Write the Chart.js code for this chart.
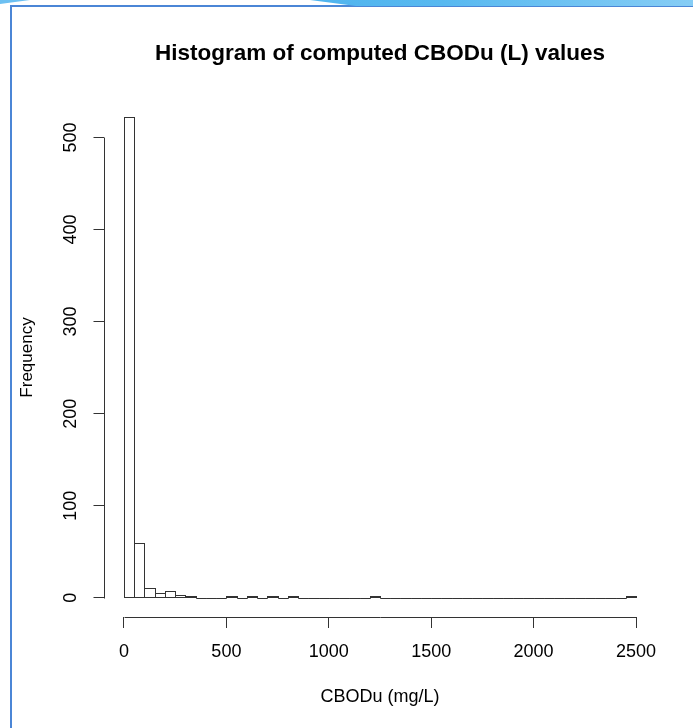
<!DOCTYPE html>
<html>
<head>
<meta charset="utf-8">
<script src="https://cdn.jsdelivr.net/npm/chart.js@4.4.1/dist/chart.umd.min.js"></script>
<style>
  html, body { margin: 0; padding: 0; background: #fff; }
  #wrap { position: relative; width: 693px; height: 728px; overflow: hidden; }
  #frame { position: absolute; left: 10px; top: 5px; right: -10px; bottom: -10px;
           border-left: 2px solid #4b86d6; border-top: 2px solid #4b86d6; }
  #swoosh { position: absolute; left: 310px; top: 0; width: 383px; height: 6px;
            background: linear-gradient(90deg, #4fb4ee 0%, #58b9f0 35%, #86cdf5 100%);
            clip-path: polygon(0 0, 100% 0, 100% 100%, 12% 100%); }
  #corner { position: absolute; left: 0; top: 0; width: 30px; height: 4px; background: #6cc0f2;
            clip-path: polygon(0 0, 100% 0, 0 100%); }
  #hist { position: absolute; left: 0; top: 0; }
</style>
</head>
<body>
<div id="wrap">
  <div id="frame"></div>
  <div id="swoosh"></div>
  <div id="corner"></div>
  <canvas id="hist" width="693" height="728"></canvas>
</div>
<script>
// bins of 50 mg/L, lower edges
const binWidth = 50;
const binStarts = [0, 50, 100, 150, 200, 250, 300, 350, 400, 450,
                   500, 550, 600, 650, 700, 750, 800, 850, 900, 950,
                   1000, 1050, 1100, 1150, 1200, 1250, 1300, 1350, 1400, 1450,
                   1500, 1550, 1600, 1650, 1700, 1750, 1800, 1850, 1900, 1950,
                   2000, 2050, 2100, 2150, 2200, 2250, 2300, 2350, 2400, 2450];
const counts = [522, 59, 10, 5, 7, 3, 1, 0, 0, 0,
                1, 0, 1, 0, 1, 0, 1, 0, 0, 0,
                0, 0, 0, 0, 1, 0, 0, 0, 0, 0,
                0, 0, 0, 0, 0, 0, 0, 0, 0, 0,
                0, 0, 0, 0, 0, 0, 0, 0, 0, 1];
const xTicks = [0, 500, 1000, 1500, 2000, 2500];
const yTicks = [0, 100, 200, 300, 400, 500];

const xLo = binStarts[0];
const xHi = binStarts[binStarts.length - 1] + binWidth;
const yHi = Math.max(...counts);

const axisColor = '#333';
const font = 'Liberation Sans, Arial, sans-serif';

// R style axes: line only from first to last tick
const rAxes = {
  id: 'rAxes',
  afterDraw(chart) {
    const { ctx, chartArea, scales: { x, y } } = chart;
    ctx.save();
    ctx.strokeStyle = axisColor;
    ctx.lineWidth = 1;
    ctx.beginPath();
    const xb = Math.round(chartArea.bottom) + 0.5;
    ctx.moveTo(Math.round(x.getPixelForValue(xTicks[0])) + 0.5, xb);
    ctx.lineTo(Math.round(x.getPixelForValue(xTicks[xTicks.length - 1])) + 0.5, xb);
    const yl = Math.round(chartArea.left) + 0.5;
    ctx.moveTo(yl, Math.round(y.getPixelForValue(yTicks[0])) + 0.5);
    ctx.lineTo(yl, Math.round(y.getPixelForValue(yTicks[yTicks.length - 1])) + 0.5);
    ctx.stroke();
    ctx.restore();
  }
};

// outline every bar like R's rect(), empty bins become a line on the base
const rBarOutline = {
  id: 'rBarOutline',
  afterDatasetsDraw(chart) {
    const ctx = chart.ctx;
    ctx.save();
    ctx.strokeStyle = axisColor;
    ctx.lineWidth = 1;
    chart.getDatasetMeta(0).data.forEach(bar => {
      const { x, y, base, width } = bar.getProps(['x', 'y', 'base', 'width'], true);
      const l = Math.round(x - width / 2) + 0.5;
      const r = Math.round(x + width / 2) + 0.5;
      const b = Math.round(base) + 0.5;
      // at least one pixel tall if the bin is not empty
      const h = base - y > 0.1 ? Math.max(1, Math.round(base - y)) : 0;
      ctx.strokeRect(l, b - h, r - l, h);
    });
    ctx.restore();
  }
};

new Chart(document.getElementById('hist'), {
  type: 'bar',
  data: {
    datasets: [{
      data: binStarts.map((s, i) => ({ x: s + binWidth / 2, y: counts[i] })),
      backgroundColor: '#fff',
      borderWidth: 0,
      barPercentage: 1,
      categoryPercentage: 1
    }]
  },
  options: {
    responsive: false,
    animation: false,
    layout: { padding: { left: 0, right: 36.5, top: 0, bottom: 0 } },
    plugins: {
      legend: { display: false },
      tooltip: { enabled: false },
      title: {
        display: true,
        fullSize: false,
        text: 'Histogram of computed CBODu (L) values',
        color: '#000',
        font: { family: font, size: 22.5, weight: 'bold' },
        padding: { top: 40, bottom: 31 }
      }
    },
    scales: {
      x: {
        type: 'linear',
        offset: false,
        min: xLo - 0.04 * (xHi - xLo),
        max: xHi + 0.04 * (xHi - xLo),
        afterFit(scale) { scale.height = 111; },
        afterBuildTicks(scale) { scale.ticks = xTicks.map(v => ({ value: v })); },
        border: { display: false },
        grid: { display: true, drawOnChartArea: false, drawTicks: true, tickLength: 11,
                color: axisColor, offset: false },
        ticks: { maxRotation: 0, padding: 13, autoSkip: false,
                 callback: v => String(v),
                 color: '#000', font: { family: font, size: 18 } },
        title: { display: true, text: 'CBODu (mg/L)', color: '#000',
                 font: { family: font, size: 18 },
                 padding: { top: 0, bottom: 20 } }
      },
      y: {
        min: -0.04 * yHi,
        max: yHi * 1.04,
        afterFit(scale) { scale.width = 103.5; },
        afterBuildTicks(scale) { scale.ticks = yTicks.map(v => ({ value: v })); },
        border: { display: false },
        grid: { display: true, drawOnChartArea: false, drawTicks: true, tickLength: 10,
                color: axisColor },
        ticks: { minRotation: 90, maxRotation: 90, autoSkip: false,
                 crossAlign: 'center', padding: 7,
                 callback: v => String(v),
                 color: '#000', font: { family: font, size: 18 } },
        title: { display: true, text: 'Frequency', color: '#000',
                 font: { family: font, size: 17 },
                 padding: { top: 17, bottom: 0 } }
      }
    }
  },
  plugins: [rAxes, rBarOutline]
});
</script>
</body>
</html>
